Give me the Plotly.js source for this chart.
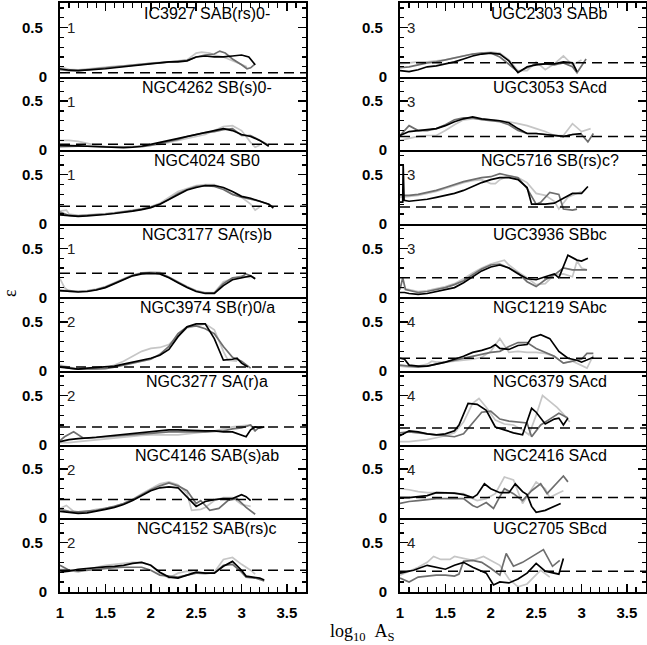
<!DOCTYPE html>
<html><head><meta charset="utf-8">
<script src="https://cdn.plot.ly/plotly-3.0.1.min.js"></script>
<style>html,body{margin:0;padding:0;background:#fff}</style>
</head><body><div id="chart" style="width:647px;height:645px"></div>
<script>
// ---------- data ----------
const galaxyTitles = [
  'IC3927 SAB(rs)0-','NGC4262 SB(s)0-','NGC4024 SB0','NGC3177 SA(rs)b',
  'NGC3974 SB(r)0/a','NGC3277 SA(r)a','NGC4146 SAB(s)ab','NGC4152 SAB(rs)c',
  'UGC2303 SABb','UGC3053 SAcd','NGC5716 SB(rs)c?','UGC3936 SBbc',
  'NGC1219 SAbc','NGC6379 SAcd','NGC2416 SAcd','UGC2705 SBcd'];
const groupLabels = ['1','1','1','1','2','2','2','2','3','3','3','3','4','4','4','4'];
const dashedLevels = [0.04,0.06,0.18,0.245,0.04,0.18,0.19,0.22,0.14,0.14,0.17,0.2,0.13,0.17,0.21,0.21];
const xTickVals = [1,1.5,2,2.5,3,3.5];
const yTickVals = [0,0.5];

// each series: [log10 A_S, epsilon] pairs
const IC3927_black=[[1.0,0.08],[1.1,0.065],[1.2,0.06],[1.3,0.065],[1.4,0.07],[1.5,0.08],[1.6,0.09],[1.7,0.1],[1.8,0.11],[1.9,0.12],[2.0,0.13],[2.1,0.14],[2.2,0.15],[2.3,0.15],[2.4,0.16],[2.5,0.2],[2.6,0.21],[2.7,0.2],[2.8,0.2],[2.9,0.21],[3.0,0.22],[3.08,0.2],[3.15,0.12]];
const IC3927_dark=[[1.0,0.07],[1.1,0.06],[1.2,0.06],[1.3,0.07],[1.4,0.075],[1.5,0.085],[1.6,0.095],[1.7,0.105],[1.8,0.115],[1.9,0.125],[2.0,0.135],[2.1,0.14],[2.2,0.15],[2.3,0.155],[2.4,0.165],[2.5,0.2],[2.6,0.22],[2.7,0.23],[2.76,0.26],[2.82,0.24],[2.9,0.18],[3.0,0.12],[3.06,0.08],[3.1,0.09],[3.15,0.13]];
const IC3927_light=[[1.0,0.1],[1.1,0.075],[1.2,0.07],[1.3,0.08],[1.4,0.09],[1.5,0.1],[1.6,0.105],[1.7,0.11],[1.8,0.12],[1.9,0.13],[2.0,0.14],[2.1,0.145],[2.2,0.15],[2.3,0.16],[2.4,0.17],[2.5,0.24],[2.56,0.25],[2.65,0.24],[2.7,0.22],[2.8,0.2],[2.9,0.16],[3.0,0.12],[3.06,0.1]];

const NGC4262_black=[[1.0,0.05],[1.1,0.05],[1.2,0.045],[1.3,0.04],[1.4,0.035],[1.5,0.03],[1.6,0.025],[1.7,0.025],[1.8,0.03],[1.9,0.04],[2.0,0.06],[2.1,0.08],[2.2,0.1],[2.3,0.12],[2.4,0.14],[2.5,0.16],[2.6,0.18],[2.7,0.2],[2.8,0.22],[2.9,0.2],[3.0,0.16],[3.1,0.14],[3.2,0.1],[3.3,0.04]];
const NGC4262_dark=[[1.0,0.035],[1.1,0.04],[1.2,0.04],[1.3,0.04],[1.4,0.035],[1.5,0.035],[1.6,0.035],[1.7,0.035],[1.8,0.035],[1.9,0.035],[2.0,0.05],[2.1,0.07],[2.2,0.09],[2.3,0.11],[2.4,0.14],[2.5,0.16],[2.6,0.18],[2.7,0.19],[2.8,0.21],[2.9,0.22],[3.0,0.15],[3.1,0.15],[3.2,0.1],[3.3,0.05]];
const NGC4262_light=[[1.0,0.1],[1.1,0.1],[1.2,0.09],[1.3,0.07],[1.4,0.05],[1.5,0.04],[1.6,0.035],[1.7,0.035],[1.8,0.04],[1.9,0.045],[2.0,0.05],[2.1,0.06],[2.2,0.08],[2.3,0.1],[2.4,0.12],[2.5,0.14],[2.6,0.16],[2.7,0.2],[2.8,0.24],[2.9,0.25],[3.0,0.2],[3.1,0.08],[3.15,0.03],[3.2,0.05]];

const NGC4024_black=[[1.0,0.09],[1.1,0.08],[1.2,0.075],[1.3,0.08],[1.4,0.085],[1.5,0.095],[1.6,0.105],[1.7,0.115],[1.8,0.13],[1.9,0.145],[2.0,0.165],[2.1,0.2],[2.2,0.25],[2.3,0.3],[2.4,0.345],[2.5,0.37],[2.6,0.39],[2.7,0.39],[2.8,0.37],[2.9,0.33],[3.0,0.28],[3.1,0.26],[3.2,0.23],[3.3,0.2],[3.35,0.16]];
const NGC4024_dark=[[1.0,0.12],[1.05,0.1],[1.1,0.085],[1.2,0.08],[1.3,0.085],[1.4,0.09],[1.5,0.1],[1.6,0.11],[1.7,0.12],[1.8,0.135],[1.9,0.15],[2.0,0.17],[2.1,0.2],[2.2,0.25],[2.3,0.31],[2.4,0.35],[2.5,0.38],[2.6,0.39],[2.7,0.38],[2.8,0.35],[2.9,0.3],[3.0,0.27],[3.1,0.25],[3.2,0.23],[3.3,0.2],[3.35,0.17]];
const NGC4024_light=[[1.0,0.13],[1.07,0.14],[1.1,0.1],[1.2,0.085],[1.3,0.09],[1.4,0.095],[1.5,0.105],[1.6,0.115],[1.7,0.125],[1.8,0.14],[1.9,0.155],[2.0,0.175],[2.1,0.21],[2.2,0.27],[2.3,0.33],[2.4,0.36],[2.5,0.39],[2.6,0.4],[2.7,0.4],[2.8,0.36],[2.9,0.3],[3.0,0.27],[3.1,0.2],[3.15,0.14],[3.2,0.17]];

const NGC3177_black=[[1.0,0.07],[1.1,0.06],[1.2,0.055],[1.3,0.06],[1.4,0.075],[1.5,0.1],[1.6,0.14],[1.7,0.18],[1.8,0.22],[1.9,0.24],[2.0,0.245],[2.1,0.24],[2.2,0.2],[2.3,0.15],[2.4,0.1],[2.5,0.06],[2.6,0.04],[2.7,0.04],[2.8,0.12],[2.9,0.18],[3.0,0.2],[3.1,0.22],[3.15,0.19]];
const NGC3177_dark=[[1.0,0.07],[1.1,0.07],[1.2,0.06],[1.3,0.065],[1.4,0.08],[1.5,0.105],[1.6,0.145],[1.7,0.185],[1.8,0.225],[1.9,0.245],[2.0,0.25],[2.1,0.245],[2.2,0.205],[2.3,0.155],[2.4,0.105],[2.5,0.065],[2.6,0.045],[2.7,0.045],[2.8,0.14],[2.9,0.2],[3.0,0.21],[3.05,0.24],[3.1,0.22],[3.15,0.19]];
const NGC3177_light=[[1.0,0.19],[1.05,0.1],[1.1,0.06],[1.2,0.06],[1.3,0.07],[1.4,0.085],[1.5,0.11],[1.6,0.15],[1.7,0.19],[1.8,0.23],[1.9,0.25],[2.0,0.26],[2.1,0.255],[2.2,0.21],[2.3,0.16],[2.4,0.11],[2.5,0.07],[2.6,0.05],[2.7,0.05],[2.8,0.16],[2.9,0.19],[3.0,0.22],[3.1,0.2]];

const NGC3974_black=[[1.0,0.04],[1.1,0.03],[1.2,0.02],[1.3,0.03],[1.4,0.035],[1.5,0.045],[1.6,0.05],[1.7,0.07],[1.8,0.09],[1.9,0.11],[2.0,0.13],[2.1,0.16],[2.2,0.22],[2.3,0.35],[2.4,0.45],[2.5,0.48],[2.6,0.48],[2.7,0.33],[2.8,0.11],[2.9,0.12],[2.95,0.13],[3.0,0.08],[3.07,0.04]];
const NGC3974_dark=[[1.0,0.05],[1.1,0.03],[1.2,0.02],[1.3,0.02],[1.4,0.02],[1.5,0.025],[1.6,0.04],[1.7,0.06],[1.8,0.08],[1.9,0.1],[2.0,0.12],[2.1,0.17],[2.2,0.25],[2.3,0.38],[2.4,0.45],[2.5,0.46],[2.6,0.43],[2.7,0.38],[2.8,0.25],[2.9,0.14],[3.0,0.1],[3.1,0.03]];
const NGC3974_light=[[1.0,0.06],[1.1,0.04],[1.2,0.02],[1.3,0.02],[1.4,0.02],[1.5,0.03],[1.6,0.06],[1.7,0.1],[1.8,0.15],[1.9,0.2],[2.0,0.23],[2.1,0.24],[2.2,0.27],[2.3,0.36],[2.4,0.44],[2.5,0.46],[2.6,0.48],[2.7,0.42],[2.8,0.2],[2.85,0.11],[2.95,0.1]];

const NGC3277_black=[[1.0,0.03],[1.1,0.05],[1.2,0.06],[1.3,0.065],[1.4,0.075],[1.5,0.085],[1.6,0.095],[1.7,0.1],[1.8,0.11],[1.9,0.125],[2.0,0.135],[2.1,0.14],[2.2,0.15],[2.3,0.15],[2.4,0.145],[2.5,0.14],[2.6,0.14],[2.7,0.14],[2.8,0.13],[2.9,0.13],[3.0,0.1],[3.05,0.08],[3.1,0.15],[3.15,0.18],[3.2,0.17],[3.25,0.18]];
const NGC3277_dark=[[1.0,0.04],[1.05,0.08],[1.15,0.13],[1.25,0.07],[1.3,0.065],[1.4,0.07],[1.5,0.075],[1.6,0.085],[1.7,0.095],[1.8,0.1],[1.9,0.11],[2.0,0.115],[2.2,0.13],[2.4,0.13],[2.6,0.13],[2.8,0.14],[2.9,0.16],[3.0,0.17],[3.1,0.2],[3.15,0.14],[3.2,0.18],[3.25,0.18]];
const NGC3277_light=[[1.0,0.02],[1.1,0.02],[1.2,0.03],[1.3,0.04],[1.4,0.05],[1.5,0.06],[1.6,0.07],[1.7,0.08],[1.8,0.09],[1.9,0.095],[2.0,0.1],[2.1,0.1],[2.2,0.1],[2.3,0.1],[2.4,0.11],[2.5,0.12],[2.6,0.13],[2.7,0.14],[2.8,0.16],[2.9,0.18],[3.0,0.19],[3.1,0.2],[3.15,0.13]];

const NGC4146_black=[[1.0,0.07],[1.1,0.06],[1.2,0.05],[1.3,0.055],[1.4,0.07],[1.5,0.09],[1.6,0.11],[1.7,0.14],[1.8,0.18],[1.9,0.23],[2.0,0.28],[2.1,0.31],[2.2,0.32],[2.3,0.31],[2.4,0.22],[2.5,0.12],[2.6,0.17],[2.7,0.19],[2.8,0.2],[2.9,0.2],[3.0,0.24],[3.05,0.22],[3.1,0.18]];
const NGC4146_dark=[[1.0,0.09],[1.1,0.07],[1.2,0.065],[1.3,0.07],[1.4,0.08],[1.5,0.1],[1.6,0.12],[1.7,0.15],[1.8,0.19],[1.9,0.24],[2.0,0.29],[2.1,0.33],[2.2,0.36],[2.3,0.33],[2.4,0.28],[2.5,0.15],[2.55,0.18],[2.65,0.08],[2.75,0.1],[2.85,0.18],[2.95,0.2],[3.05,0.11],[3.15,0.04]];
const NGC4146_light=[[1.0,0.1],[1.07,0.13],[1.15,0.07],[1.2,0.06],[1.3,0.07],[1.4,0.09],[1.5,0.1],[1.6,0.12],[1.7,0.15],[1.8,0.19],[1.9,0.25],[2.0,0.3],[2.1,0.35],[2.2,0.37],[2.3,0.34],[2.4,0.25],[2.45,0.08],[2.55,0.09],[2.6,0.11],[2.7,0.18],[2.8,0.21],[2.9,0.21],[3.0,0.14],[3.1,0.12]];

const NGC4152_black=[[1.0,0.2],[1.1,0.21],[1.2,0.23],[1.3,0.24],[1.4,0.25],[1.5,0.255],[1.6,0.26],[1.7,0.27],[1.8,0.29],[1.9,0.3],[2.0,0.27],[2.1,0.2],[2.2,0.15],[2.3,0.14],[2.4,0.17],[2.5,0.2],[2.6,0.19],[2.7,0.19],[2.8,0.26],[2.9,0.31],[3.0,0.22],[3.05,0.16],[3.2,0.14],[3.25,0.12]];
const NGC4152_dark=[[1.0,0.27],[1.1,0.22],[1.2,0.21],[1.3,0.22],[1.4,0.23],[1.5,0.24],[1.6,0.245],[1.7,0.25],[1.8,0.25],[1.9,0.25],[2.0,0.22],[2.1,0.17],[2.2,0.16],[2.3,0.15],[2.4,0.17],[2.5,0.19],[2.6,0.19],[2.7,0.19],[2.8,0.27],[2.9,0.28],[3.0,0.2],[3.05,0.15],[3.15,0.14],[3.25,0.11]];
const NGC4152_light=[[1.0,0.23],[1.1,0.22],[1.2,0.2],[1.3,0.23],[1.4,0.25],[1.5,0.27],[1.6,0.28],[1.7,0.29],[1.8,0.3],[1.9,0.3],[2.0,0.27],[2.1,0.19],[2.2,0.14],[2.3,0.19],[2.4,0.21],[2.5,0.19],[2.6,0.18],[2.7,0.2],[2.8,0.33],[2.9,0.35],[3.0,0.28],[3.1,0.22],[3.15,0.18]];

const UGC2303_black=[[1.0,0.06],[1.1,0.05],[1.2,0.07],[1.3,0.1],[1.4,0.11],[1.5,0.13],[1.6,0.15],[1.7,0.18],[1.8,0.21],[1.9,0.23],[2.0,0.24],[2.1,0.23],[2.2,0.16],[2.3,0.04],[2.4,0.1],[2.5,0.12],[2.6,0.13],[2.7,0.13],[2.8,0.15],[2.9,0.14],[2.95,0.05]];
const UGC2303_dark=[[1.0,0.09],[1.1,0.1],[1.2,0.12],[1.3,0.14],[1.4,0.15],[1.5,0.17],[1.6,0.19],[1.7,0.21],[1.8,0.23],[1.9,0.24],[2.0,0.24],[2.1,0.2],[2.2,0.12],[2.3,0.05],[2.4,0.09],[2.5,0.13],[2.6,0.13],[2.7,0.12],[2.8,0.14],[2.9,0.1],[2.95,0.04],[3.05,0.18]];
const UGC2303_light=[[1.0,0.13],[1.1,0.14],[1.2,0.15],[1.3,0.15],[1.4,0.16],[1.5,0.17],[1.6,0.19],[1.7,0.21],[1.8,0.23],[1.9,0.24],[2.0,0.25],[2.1,0.24],[2.2,0.17],[2.3,0.06],[2.4,0.06],[2.5,0.15],[2.6,0.07],[2.7,0.13],[2.8,0.21],[2.9,0.12],[3.0,0.17]];

const UGC3053_black=[[1.0,0.15],[1.1,0.19],[1.2,0.2],[1.3,0.21],[1.4,0.22],[1.5,0.25],[1.6,0.29],[1.7,0.32],[1.8,0.34],[1.9,0.32],[2.0,0.31],[2.1,0.3],[2.2,0.28],[2.3,0.22],[2.4,0.17],[2.5,0.17],[2.6,0.16],[2.7,0.15],[2.8,0.14],[2.9,0.16],[3.0,0.17]];
const UGC3053_dark=[[1.0,0.15],[1.1,0.25],[1.2,0.2],[1.3,0.2],[1.4,0.22],[1.5,0.26],[1.6,0.31],[1.7,0.33],[1.8,0.33],[1.9,0.31],[2.0,0.3],[2.1,0.29],[2.2,0.26],[2.3,0.2],[2.4,0.17],[2.5,0.17],[2.6,0.16],[2.7,0.15],[2.8,0.14],[2.9,0.16],[3.0,0.16],[3.07,0.085],[3.13,0.17]];
const UGC3053_light=[[1.0,0.1],[1.1,0.12],[1.2,0.14],[1.3,0.15],[1.4,0.15],[1.5,0.2],[1.6,0.26],[1.7,0.31],[1.8,0.32],[1.9,0.32],[2.0,0.31],[2.1,0.3],[2.2,0.29],[2.3,0.27],[2.4,0.25],[2.5,0.22],[2.6,0.19],[2.7,0.15],[2.8,0.15],[2.9,0.27],[3.0,0.19],[3.1,0.22]];

const NGC5716_black=[[1.0,0.22],[1.03,0.22],[1.035,0.6],[1.045,0.24],[1.1,0.23],[1.2,0.24],[1.3,0.25],[1.4,0.27],[1.5,0.29],[1.6,0.31],[1.7,0.34],[1.8,0.38],[1.9,0.42],[2.0,0.45],[2.1,0.47],[2.2,0.47],[2.3,0.45],[2.4,0.37],[2.45,0.2],[2.6,0.2],[2.7,0.21],[2.8,0.26],[2.9,0.31],[3.0,0.31],[3.07,0.38]];
const NGC5716_dark=[[1.0,0.29],[1.1,0.29],[1.2,0.3],[1.3,0.32],[1.4,0.34],[1.5,0.37],[1.6,0.4],[1.7,0.43],[1.8,0.45],[1.9,0.47],[2.0,0.48],[2.1,0.51],[2.2,0.49],[2.3,0.47],[2.4,0.36],[2.5,0.2],[2.55,0.22],[2.65,0.32],[2.75,0.3],[2.8,0.15],[2.9,0.14],[2.95,0.15]];
const NGC5716_light=[[1.0,0.27],[1.1,0.28],[1.2,0.29],[1.3,0.31],[1.4,0.33],[1.5,0.36],[1.6,0.39],[1.7,0.42],[1.8,0.44],[1.9,0.45],[2.0,0.41],[2.05,0.41],[2.1,0.45],[2.2,0.49],[2.3,0.47],[2.4,0.42],[2.5,0.31],[2.6,0.29],[2.7,0.23],[2.75,0.15],[2.85,0.27],[3.0,0.33]];

const UGC3936_black=[[1.0,0.05],[1.05,0.05],[1.1,0.04],[1.2,0.03],[1.3,0.04],[1.4,0.06],[1.5,0.08],[1.6,0.1],[1.7,0.15],[1.8,0.21],[1.9,0.27],[2.0,0.31],[2.1,0.33],[2.2,0.3],[2.3,0.24],[2.4,0.19],[2.5,0.18],[2.6,0.21],[2.7,0.24],[2.75,0.2],[2.85,0.43],[2.95,0.38],[3.0,0.37],[3.07,0.4]];
const UGC3936_dark=[[1.0,0.08],[1.03,0.2],[1.06,0.08],[1.1,0.07],[1.2,0.05],[1.3,0.06],[1.4,0.08],[1.5,0.1],[1.6,0.13],[1.7,0.17],[1.8,0.23],[1.9,0.29],[2.0,0.33],[2.1,0.34],[2.2,0.3],[2.3,0.25],[2.4,0.16],[2.5,0.11],[2.6,0.18],[2.7,0.23],[2.8,0.3],[2.9,0.28],[3.0,0.28],[3.06,0.28]];
const UGC3936_light=[[1.0,0.1],[1.1,0.08],[1.2,0.06],[1.3,0.07],[1.4,0.09],[1.5,0.11],[1.6,0.14],[1.7,0.19],[1.8,0.25],[1.9,0.3],[2.0,0.34],[2.1,0.37],[2.15,0.38],[2.2,0.33],[2.3,0.26],[2.4,0.2],[2.5,0.13],[2.6,0.14],[2.7,0.23],[2.8,0.24],[2.9,0.21],[2.95,0.37],[3.0,0.3],[3.06,0.28]];

const NGC1219_black=[[1.0,0.13],[1.05,0.12],[1.1,0.06],[1.2,0.05],[1.3,0.05],[1.4,0.07],[1.5,0.09],[1.6,0.12],[1.7,0.15],[1.8,0.19],[1.9,0.21],[2.0,0.24],[2.05,0.27],[2.1,0.23],[2.2,0.22],[2.3,0.26],[2.4,0.27],[2.45,0.34],[2.55,0.37],[2.65,0.33],[2.75,0.2],[2.85,0.13],[2.95,0.11],[3.0,0.09],[3.13,0.14]];
const NGC1219_dark=[[1.0,0.06],[1.1,0.05],[1.2,0.04],[1.3,0.05],[1.4,0.07],[1.5,0.09],[1.6,0.11],[1.7,0.13],[1.8,0.15],[1.9,0.17],[2.0,0.19],[2.1,0.2],[2.2,0.25],[2.3,0.29],[2.4,0.29],[2.5,0.23],[2.6,0.19],[2.7,0.15],[2.8,0.08],[2.9,0.1],[3.0,0.12],[3.06,0.18],[3.13,0.18]];
const NGC1219_light=[[1.0,0.05],[1.1,0.04],[1.2,0.05],[1.3,0.07],[1.35,0.1],[1.4,0.09],[1.5,0.09],[1.6,0.1],[1.7,0.11],[1.8,0.12],[1.9,0.14],[2.0,0.2],[2.1,0.33],[2.2,0.19],[2.3,0.2],[2.4,0.19],[2.5,0.19],[2.6,0.18],[2.7,0.15],[2.8,0.08],[2.9,0.1],[3.0,0.06],[3.06,0.03],[3.13,0.16]];

const NGC6379_black=[[1.0,0.09],[1.1,0.14],[1.2,0.13],[1.3,0.11],[1.4,0.1],[1.5,0.11],[1.6,0.14],[1.65,0.2],[1.75,0.42],[1.85,0.41],[1.95,0.35],[2.05,0.18],[2.15,0.15],[2.25,0.12],[2.35,0.1],[2.45,0.37],[2.5,0.33],[2.6,0.21],[2.7,0.26],[2.75,0.27],[2.8,0.2],[2.85,0.27]];
const NGC6379_dark=[[1.0,0.12],[1.1,0.13],[1.2,0.12],[1.3,0.11],[1.4,0.1],[1.5,0.09],[1.6,0.08],[1.7,0.11],[1.8,0.22],[1.9,0.33],[2.0,0.34],[2.1,0.26],[2.2,0.24],[2.3,0.23],[2.4,0.22],[2.45,0.08],[2.55,0.2],[2.65,0.26],[2.75,0.32],[2.85,0.27]];
const NGC6379_light=[[1.0,0.03],[1.1,0.03],[1.2,0.04],[1.3,0.05],[1.4,0.07],[1.5,0.09],[1.6,0.12],[1.7,0.23],[1.8,0.42],[1.87,0.47],[1.95,0.38],[2.05,0.25],[2.15,0.21],[2.25,0.2],[2.35,0.15],[2.42,0.1],[2.5,0.3],[2.57,0.5],[2.65,0.44],[2.73,0.38],[2.8,0.31],[2.87,0.23]];

const NGC2416_black=[[1.0,0.21],[1.1,0.21],[1.2,0.22],[1.3,0.23],[1.4,0.26],[1.5,0.26],[1.6,0.255],[1.7,0.24],[1.8,0.21],[1.85,0.24],[1.93,0.35],[2.0,0.3],[2.1,0.26],[2.2,0.26],[2.27,0.35],[2.35,0.27],[2.4,0.24],[2.45,0.12],[2.5,0.06],[2.6,0.08],[2.7,0.12],[2.77,0.15]];
const NGC2416_dark=[[1.0,0.15],[1.1,0.17],[1.2,0.18],[1.3,0.19],[1.4,0.2],[1.5,0.2],[1.6,0.2],[1.7,0.2],[1.8,0.13],[1.85,0.11],[1.95,0.16],[2.03,0.1],[2.1,0.22],[2.15,0.3],[2.25,0.25],[2.35,0.18],[2.45,0.28],[2.55,0.35],[2.62,0.25],[2.7,0.33],[2.8,0.43],[2.85,0.37]];
const NGC2416_light=[[1.0,0.3],[1.1,0.29],[1.2,0.27],[1.3,0.26],[1.4,0.26],[1.5,0.26],[1.6,0.25],[1.7,0.25],[1.8,0.2],[1.85,0.18],[1.95,0.2],[2.05,0.25],[2.15,0.42],[2.25,0.39],[2.35,0.15],[2.42,0.25],[2.5,0.37],[2.6,0.3],[2.65,0.21],[2.73,0.25],[2.8,0.28]];

const UGC2705_black=[[1.0,0.19],[1.05,0.2],[1.15,0.22],[1.3,0.27],[1.4,0.25],[1.5,0.23],[1.6,0.27],[1.7,0.3],[1.8,0.25],[1.9,0.21],[1.95,0.19],[2.03,0.07],[2.1,0.1],[2.2,0.09],[2.3,0.13],[2.4,0.19],[2.5,0.29],[2.6,0.21],[2.7,0.19],[2.75,0.18],[2.8,0.34]];
const UGC2705_dark=[[1.0,0.14],[1.1,0.1],[1.2,0.15],[1.3,0.16],[1.4,0.17],[1.5,0.17],[1.6,0.16],[1.65,0.18],[1.7,0.31],[1.8,0.32],[1.9,0.3],[2.0,0.24],[2.1,0.17],[2.17,0.39],[2.25,0.26],[2.35,0.3],[2.45,0.36],[2.58,0.43],[2.68,0.26],[2.76,0.32]];
const UGC2705_light=[[1.0,0.17],[1.1,0.21],[1.2,0.25],[1.3,0.3],[1.37,0.36],[1.45,0.33],[1.55,0.33],[1.6,0.36],[1.7,0.34],[1.8,0.32],[1.92,0.36],[2.0,0.32],[2.1,0.27],[2.2,0.13],[2.3,0.05],[2.4,0.08],[2.5,0.18],[2.55,0.22],[2.65,0.15]];

// ---------- assemble ----------
const panelSeries = [
  [IC3927_light,IC3927_dark,IC3927_black],
  [NGC4262_light,NGC4262_dark,NGC4262_black],
  [NGC4024_light,NGC4024_dark,NGC4024_black],
  [NGC3177_light,NGC3177_dark,NGC3177_black],
  [NGC3974_light,NGC3974_dark,NGC3974_black],
  [NGC3277_light,NGC3277_dark,NGC3277_black],
  [NGC4146_light,NGC4146_dark,NGC4146_black],
  [NGC4152_light,NGC4152_dark,NGC4152_black],
  [UGC2303_light,UGC2303_dark,UGC2303_black],
  [UGC3053_light,UGC3053_dark,UGC3053_black],
  [NGC5716_light,NGC5716_dark,NGC5716_black],
  [UGC3936_light,UGC3936_dark,UGC3936_black],
  [NGC1219_light,NGC1219_dark,NGC1219_black],
  [NGC6379_light,NGC6379_dark,NGC6379_black],
  [NGC2416_light,NGC2416_dark,NGC2416_black],
  [UGC2705_light,UGC2705_dark,UGC2705_black]
];
const lineColors = ['#c6c6c6','#6e6e6e','#000000'];

const W=647, H=645;
const colPx = [[60,306],[400,646]];
const top0 = 3, ph = 73.6;
const XR = [1, 3.71], YR = [0, 0.75];
const tickFont = {family:'Liberation Sans, Arial, sans-serif', size:15, color:'#000', weight:'bold'};

const traces = [];
const layout = {
  width:W, height:H, margin:{l:0,r:0,t:0,b:0},
  paper_bgcolor:'#fff', plot_bgcolor:'rgba(0,0,0,0)',
  showlegend:false, annotations:[]
};

panelSeries.forEach((series, p) => {
  const col = p < 8 ? 0 : 1, row = p % 8;
  const id = p === 0 ? '' : String(p+1);
  const xa = 'x'+id, ya = 'y'+id;
  series.forEach((s, k) => {
    traces.push({type:'scatter', mode:'lines', x:s.map(d=>d[0]), y:s.map(d=>d[1]),
      xaxis:xa, yaxis:ya, line:{color:lineColors[k], width:1.7}, hoverinfo:'skip'});
  });
  traces.push({type:'scatter', mode:'lines', x:[XR[0], XR[1]], y:[dashedLevels[p], dashedLevels[p]],
    xaxis:xa, yaxis:ya, line:{color:'#000', width:1.5, dash:'10px,6px'}, hoverinfo:'skip'});

  const isTop = row === 0, isBottom = row === 7;
  const xax = {
    domain:[colPx[col][0]/W, colPx[col][1]/W], range:XR, anchor:ya,
    showgrid:false, zeroline:false, showline:true, linecolor:'#000', linewidth:2, mirror:isTop,
    tickvals:xTickVals, ticktext:xTickVals.map(String),
    ticks:(isTop||isBottom)?'inside':'', ticklen:8, tickwidth:1.5, tickcolor:'#000',
    side:isTop?'top':'bottom',
    showticklabels:isBottom, tickfont:tickFont, ticklabelstandoff:6,
    minor:{dtick:0.1, tick0:1, ticks:(isTop||isBottom)?'inside':'', ticklen:5, tickwidth:1.2, tickcolor:'#000', showgrid:false}
  };
  const yax = {
    domain:[1-(top0+ph*(row+1))/H, 1-(top0+ph*row)/H], range:YR, anchor:xa,
    showgrid:false, zeroline:false, showline:true, linecolor:'#000', linewidth:2, mirror:'ticks',
    tickvals:yTickVals, ticktext:['0','0.5\u00a0'], ticks:'inside', ticklen:8, tickwidth:1.5, tickcolor:'#000',
    tickfont:tickFont, ticklabelstandoff:8,
    minor:{dtick:0.1, tick0:0, ticks:'inside', ticklen:4, tickwidth:1.2, tickcolor:'#000', showgrid:false}
  };
  layout['xaxis'+id] = xax;
  layout['yaxis'+id] = yax;

  layout.annotations.push({xref:xa, yref:ya, x:col===0?2.62:2.65, y:YR[1], xanchor:'center', yanchor:'top',
    yshift:0, text:galaxyTitles[p], showarrow:false,
    font:{family:'Liberation Sans, Arial, sans-serif', size:16, color:'#000'}});
  layout.annotations.push({xref:xa, yref:ya, x:1.06, y:0.5, xanchor:'left', yanchor:'middle',
    text:groupLabels[p], showarrow:false,
    font:{family:'Liberation Sans, Arial, sans-serif', size:15, color:'#222'}});
});

layout.annotations.push({xref:'paper', yref:'paper', x:10/W, y:1-293/H, xanchor:'center', yanchor:'middle',
  text:'\u03b5', textangle:-90,
  showarrow:false, font:{family:'Liberation Serif, Times New Roman, serif', size:18, color:'#000'}});
layout.annotations.push({xref:'paper', yref:'paper', x:362/W, y:1-632/H, xanchor:'center', yanchor:'middle',
  text:'log<sub>10</sub>\u00a0\u00a0A<sub>S</sub>', showarrow:false,
  font:{family:'Liberation Serif, Times New Roman, serif', size:18, color:'#000'}});

Plotly.newPlot('chart', traces, layout, {staticPlot:true, displayModeBar:false});
</script>
</body></html>
